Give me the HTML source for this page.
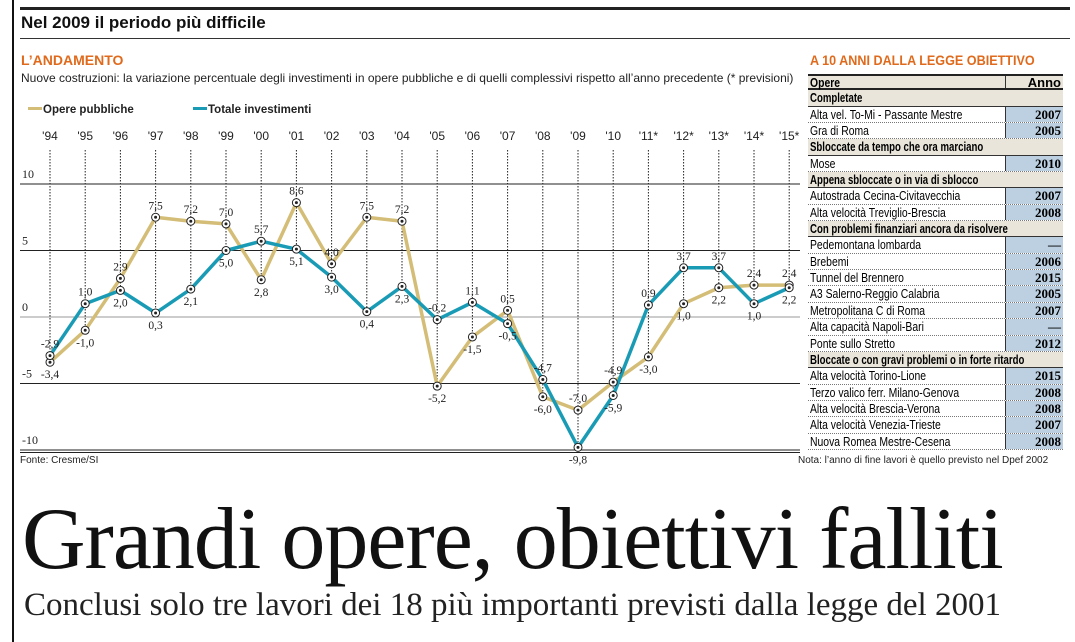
<!DOCTYPE html>
<html><head><meta charset="utf-8">
<style>
body{margin:0;width:1075px;height:642px;background:#fff;position:relative;overflow:hidden;font-family:"Liberation Sans",sans-serif;}
.abs{position:absolute;}
#tbl{position:absolute;left:808px;top:74px;width:255px;}
.r{height:16.35px;line-height:16px;font-size:13px;position:relative;border-bottom:1px dotted #777;box-sizing:border-box;}
.r .n{position:absolute;left:2px;top:0;white-space:nowrap;transform:scaleX(0.8);transform-origin:0 0;}
.s .n{transform:scaleX(0.74);}
.r .y{position:absolute;right:0;top:0;width:58px;height:100%;background:#bcd0e2;text-align:right;font-family:"Liberation Serif",serif;font-weight:bold;padding-right:2px;box-sizing:border-box;border-left:1px solid #333;}
.s{background:#e9e5da;font-weight:bold;border-bottom:1px solid #333;}
.h{background:#e9e5da;font-weight:bold;border-top:2px solid #222;border-bottom:2px solid #222;line-height:13px;}
</style></head><body>
<div class="abs" style="left:12px;top:0;width:2px;height:642px;background:#111"></div>
<div class="abs" style="left:20px;top:7px;width:1050px;height:3px;background:#222"></div>
<div class="abs" style="left:21px;top:13px;font-size:17px;font-weight:bold;color:#111">Nel 2009 il periodo più difficile</div>
<div class="abs" style="left:20px;top:38px;width:1050px;height:1px;background:#333"></div>
<div class="abs" style="left:21px;top:52px;font-size:14px;font-weight:bold;color:#e06a1c">L’ANDAMENTO</div>
<div class="abs" style="left:21px;top:71px;font-size:12px;color:#222;white-space:nowrap;transform:scaleX(1.0);transform-origin:0 0">Nuove costruzioni: la variazione percentuale degli investimenti in opere pubbliche e di quelli complessivi rispetto all’anno precedente (* previsioni)</div>
<div class="abs" style="left:810px;top:52px;font-size:14px;font-weight:bold;color:#e06a1c;white-space:nowrap;transform:scaleX(0.9);transform-origin:0 0">A 10 ANNI DALLA LEGGE OBIETTIVO</div>
<svg class="abs" style="left:0;top:0" width="800" height="470" id="chart"></svg>
<div class="abs" style="left:20px;top:455px;font-size:10px;color:#222">Fonte: Cresme/SI</div>
<div class="abs" style="left:20px;top:452px;width:780px;height:1px;background:#222"></div>
<div class="abs" style="left:798px;top:455px;font-size:10px;color:#222">Nota: l’anno di fine lavori è quello previsto nel Dpef 2002</div>
<div id="tbl"></div>
<div class="abs" style="left:22px;top:490px;font-family:'Liberation Serif',serif;font-size:88px;line-height:100px;color:#111;letter-spacing:-1px;white-space:nowrap">Grandi opere, obiettivi falliti</div>
<div class="abs" style="left:24px;top:587px;font-family:'Liberation Serif',serif;font-size:33px;color:#222;white-space:nowrap">Conclusi solo tre lavori dei 18 più importanti previsti dalla legge del 2001</div>
<script>
const years=["'94","'95","'96","'97","'98","'99","'00","'01","'02","'03","'04","'05","'06","'07","'08","'09","'10","'11*","'12*","'13*","'14*","'15*"];
const opere=[-3.4,-1.0,2.9,7.5,7.2,7.0,2.8,8.6,4.0,7.5,7.2,-5.2,-1.5,0.5,-6.0,-7.0,-4.9,-3.0,1.0,2.2,2.4,2.4];
const totale=[-2.9,1.0,2.0,0.3,2.1,5.0,5.7,5.1,3.0,0.4,2.3,-0.2,1.1,-0.5,-4.7,-9.8,-5.9,0.9,3.7,3.7,1.0,2.2];
const yTicks=[10,5,0,-5,-10];
const NS="http://www.w3.org/2000/svg";
const svg=document.getElementById('chart');
const X=i=>50+i*35.2, Y=v=>317-v*13.3;
function mk(t,a){const e=document.createElementNS(NS,t);for(const k in a)e.setAttribute(k,a[k]);svg.appendChild(e);return e;}
yTicks.forEach(v=>{
 const l=mk('line',{x1:20,x2:800,y1:Y(v),y2:Y(v),stroke:v===0?'#999':'#222','stroke-width':1});
 
 
 const t=mk('text',{x:22,y:Y(v)-6,'font-size':12,'font-family':'Liberation Serif,serif',fill:'#222'});
 t.textContent=String(v);
 
 
});
years.forEach((yr,i)=>{
 const l=mk('line',{x1:X(i),x2:X(i),y1:150,y2:Math.max(Y(opere[i]),Y(totale[i])),stroke:'#222','stroke-dasharray':'1.5,1.5','stroke-width':1});
 
 
 const t=mk('text',{x:X(i),y:140,'text-anchor':'middle','font-size':12,'font-family':'Liberation Sans,sans-serif',fill:'#222'});
 t.textContent=yr;
 
 
});
function series(arr,col,name){
 const p=mk('polyline',{points:arr.map((v,i)=>X(i)+','+Y(v)).join(' '),fill:'none',stroke:col,'stroke-width':3.5,'stroke-linejoin':'round'});
 
 
}
series(opere,'#d4bd76','opere-pubbliche');
series(totale,'#1a9bb5','totale-investimenti');
function marks(arr,other,name){
 arr.forEach((v,i)=>{
  const c=mk('circle',{cx:X(i),cy:Y(v),r:4,fill:'#fff',stroke:'#222','stroke-width':1});
  
  
  mk('circle',{cx:X(i),cy:Y(v),r:1.5,fill:'#222'});
  const above=v>=other[i];
  const t=mk('text',{x:X(i),y:above?Y(v)-8:Y(v)+16,'text-anchor':'middle','font-size':11.5,'font-family':'Liberation Serif,serif',fill:'#222'});
  t.textContent=v.toFixed(1).replace('.',',');
  
  
 });
}
marks(opere,totale,'opere');
marks(totale,opere,'totale');
const lg=[[20,'#d4bd76','Opere pubbliche'],[185,'#1a9bb5','Totale investimenti']];
lg.forEach(([x,c,s])=>{
 const r=mk('rect',{x:x+8,y:107,width:14,height:3,fill:c});
 
 
 const t=mk('text',{x:x+23,y:113,'font-size':11.5,'font-weight':'bold','font-family':'Liberation Sans,sans-serif',fill:'#222'});
 t.textContent=s;
 
 
});
const rows=[["h","Opere","Anno"],["s","Completate"],["r","Alta vel. To-Mi - Passante Mestre","2007"],["r","Gra di Roma","2005"],["s","Sbloccate da tempo che ora marciano"],["r","Mose","2010"],["s","Appena sbloccate o in via di sblocco"],["r","Autostrada Cecina-Civitavecchia","2007"],["r","Alta velocità Treviglio-Brescia","2008"],["s","Con problemi finanziari ancora da risolvere"],["r","Pedemontana lombarda","—"],["r","Brebemi","2006"],["r","Tunnel del Brennero","2015"],["r","A3 Salerno-Reggio Calabria","2005"],["r","Metropolitana C di Roma","2007"],["r","Alta capacità Napoli-Bari","—"],["r","Ponte sullo Stretto","2012"],["s","Bloccate o con gravi problemi o in forte ritardo"],["r","Alta velocità Torino-Lione","2015"],["r","Terzo valico ferr. Milano-Genova","2008"],["r","Alta velocità Brescia-Verona","2008"],["r","Alta velocità Venezia-Trieste","2007"],["r","Nuova Romea Mestre-Cesena","2008"]];
const tb=document.getElementById('tbl');
rows.forEach(r=>{
 const d=document.createElement('div');
 d.className='r'+(r[0]==='s'?' s':r[0]==='h'?' h':'');
 
 
 const n=document.createElement('span');n.className='n';n.textContent=r[1];d.appendChild(n);
 if(r.length>2){const y=document.createElement('span');y.className='y';y.textContent=r[2];
  if(r[0]==='h'){y.style.background='#e9e5da';y.style.fontFamily='inherit';}
  d.appendChild(y);}
 tb.appendChild(d);
});
</script>
</body></html>
